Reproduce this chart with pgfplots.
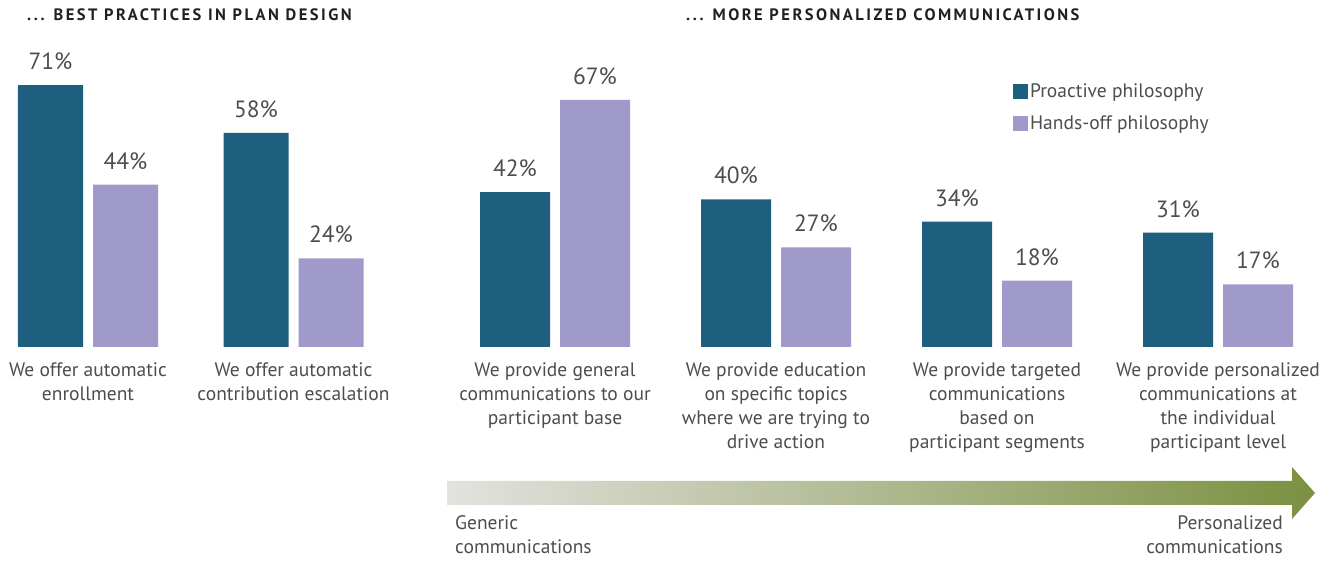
\documentclass[border=0pt]{standalone}
\usepackage{fontspec}
\setmainfont{PT Sans}
\usepackage{pgfplots}
\pgfplotsset{compat=1.18}
\definecolor{proactive}{HTML}{1E5F80}
\definecolor{handsoff}{HTML}{A09ACB}
\definecolor{txt}{HTML}{4D4D4D}
\definecolor{ttl}{HTML}{231F20}
\definecolor{argrey}{HTML}{E2E2DF}
\definecolor{arolive}{HTML}{7B9040}

\pgfplotsset{
  mybars/.style={
    ybar=10pt, scale only axis, height=295.2pt, ymin=0, ymax=80,
    xmin=-0.5,
    hide y axis, axis x line*=bottom, x axis line style={draw=none},
    xtick=data, major tick length=0pt,
    xticklabel style={align=center, font=\fontsize{19.5}{24}\selectfont, text=txt, yshift=-12pt},
    /pgf/number format/assume math mode=true,
    nodes near coords={\pgfmathprintnumber{\pgfplotspointmeta}\%},
    nodes near coords style={font=\fontsize{23.5}{26}\selectfont, text=txt, anchor=south, inner sep=0pt, yshift=15pt},
    clip=false, anchor=south west,
  }
}

\begin{document}
\begin{tikzpicture}

% left: plan design
\begin{axis}[mybars, at={(-14.75pt,214pt)}, width=411pt, xmax=1.5, bar width=65pt,
  xticklabels={We offer automatic\\enrollment, We offer automatic\\contribution escalation}]
\addplot[fill=proactive, draw=none] coordinates {(0,71) (1,58)};
\addplot[fill=handsoff, draw=none] coordinates {(0,44) (1,24)};
\end{axis}

% right: communications
\begin{axis}[mybars, at={(444.5pt,214pt)}, width=884pt, xmax=3.5, bar width=70pt,
  xticklabels={We provide general\\communications to our\\participant base,
    We provide education\\on specific topics\\where we are trying to\\drive action,
    We provide targeted\\communications\\based on\\participant segments,
    We provide personalized\\communications at\\the individual\\participant level},
  legend image code/.code={\fill[#1] (0pt,-7.5pt) rectangle (15pt,7.5pt);},
  legend style={draw=none, fill=none, at={(0.643,0.90)}, anchor=north west,
    font=\fontsize{19.5}{22}\selectfont, text=txt, row sep=13pt, inner sep=0pt,
    cells={anchor=west}},
  ]
\addplot[fill=proactive, draw=none] coordinates {(0,42) (1,40) (2,34) (3,31)};
\addplot[fill=handsoff, draw=none] coordinates {(0,67) (1,27) (2,18) (3,17)};
\legend{Proactive philosophy, Hands-off philosophy}
\end{axis}

% titles
\node[anchor=base west, text=ttl, inner sep=0pt, font=\fontsize{16.5}{18}\selectfont\bfseries\addfontfeatures{LetterSpace=15}]
  at (27pt,540pt) {... BEST PRACTICES IN PLAN DESIGN};
\node[anchor=base west, text=ttl, inner sep=0pt, font=\fontsize{16.5}{18}\selectfont\bfseries\addfontfeatures{LetterSpace=15}]
  at (686pt,540pt) {... MORE PERSONALIZED COMMUNICATIONS};

% gradient arrow
\shade[left color=argrey, right color=arolive]
  (447pt,56pt) -- (1292pt,56pt) -- (1292pt,42pt) -- (1315pt,68pt)
  -- (1292pt,94pt) -- (1292pt,80pt) -- (447pt,80pt) -- cycle;
\node[anchor=base west, inner sep=0pt, text=txt, font=\fontsize{19.5}{24}\selectfont] at (455pt,31pt) {Generic};
\node[anchor=base west, inner sep=0pt, text=txt, font=\fontsize{19.5}{24}\selectfont] at (455pt,7pt) {communications};
\node[anchor=base east, inner sep=0pt, text=txt, font=\fontsize{19.5}{24}\selectfont] at (1283pt,31pt) {Personalized};
\node[anchor=base east, inner sep=0pt, text=txt, font=\fontsize{19.5}{24}\selectfont] at (1283pt,7pt) {communications};

\pgfresetboundingbox
\useasboundingbox (0,0) rectangle (1331pt,561pt);
\end{tikzpicture}
\end{document}
